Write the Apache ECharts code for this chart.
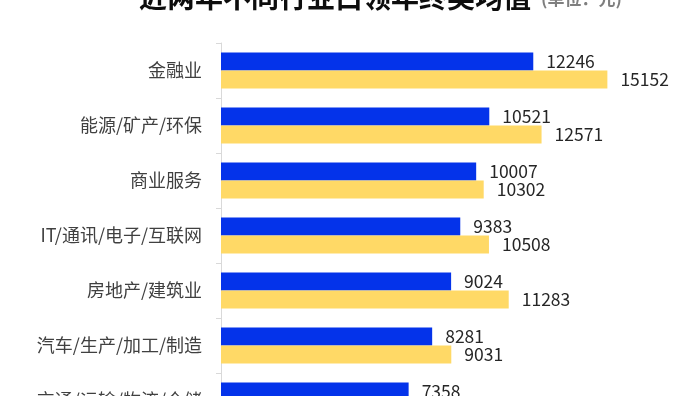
<!DOCTYPE html>
<html>
<head>
<meta charset="utf-8">
<script src="https://cdn.jsdelivr.net/npm/echarts@6/dist/echarts.min.js"></script>
<style>
html,body{margin:0;padding:0;overflow:hidden;background:#fff;}
#c{width:690px;height:450px;}
</style>
</head>
<body>
<div id="c"></div>
<script>
var categories = ['金融业','能源/矿产/环保','商业服务','IT/通讯/电子/互联网','房地产/建筑业','汽车/生产/加工/制造','交通/运输/物流/仓储'];
var seriesBlue = [12246,10521,10007,9383,9024,8281,7358];
var seriesYellow = [15152,12571,10302,10508,11283,9031,8412];
var seriesNames = ['去年','今年'];

var chart = echarts.init(document.getElementById('c'));
var font = '"Noto Sans CJK SC","Microsoft YaHei",sans-serif';
var labelCfg = {show:true, position:'right', distance:13, fontSize:17.5, color:'#262626', fontFamily:font};
chart.setOption({
  animation:false,
  title:{
    left:134, top:-22,
    text:'{a|近两年不同行业白领年终奖均值}  {b|(单位：元)}',
    textStyle:{
      rich:{
        a:{fontSize:28, fontWeight:'bold', color:'#0d0d0d', fontFamily:font},
        b:{fontSize:17, color:'#7f7f7f', fontFamily:font, padding:[4,0,0,0]}
      }
    }
  },
  grid:{left:221, right:61, top:43, bottom:22},
  xAxis:{type:'value', min:0, max:16000, show:false},
  yAxis:{
    type:'category', data:categories, inverse:true,
    axisLine:{lineStyle:{color:'#d9d9d9', width:1}},
    axisTick:{show:true, length:5, lineStyle:{color:'#d9d9d9'}},
    axisLabel:{fontSize:18, color:'#404040', margin:19, fontFamily:font}
  },
  series:[
    {name:seriesNames[0], type:'bar', data:seriesBlue, barWidth:18, barGap:'0%', itemStyle:{color:'#0433EA'}, label:labelCfg},
    {name:seriesNames[1], type:'bar', data:seriesYellow, barWidth:18, barGap:'0%', itemStyle:{color:'#FFD966'}, label:labelCfg}
  ]
});
</script>
</body>
</html>
